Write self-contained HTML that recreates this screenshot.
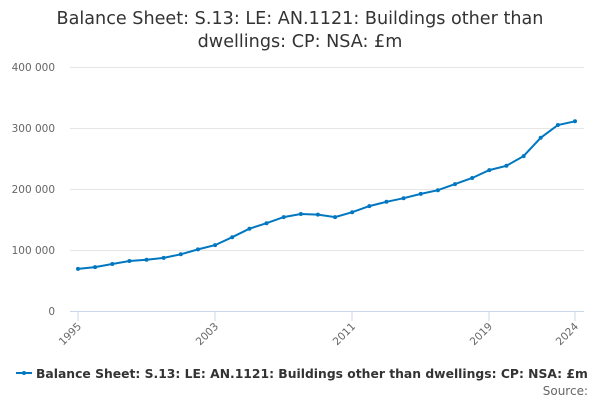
<!DOCTYPE html>
<html><head><meta charset="utf-8"><style>
body{margin:0;background:#fff;width:600px;height:400px;overflow:hidden;font-family:"DejaVu Sans",sans-serif;}
</style></head><body>
<svg width="600" height="400" xmlns="http://www.w3.org/2000/svg" font-family="DejaVu Sans, sans-serif">
<text x="300" y="24" text-anchor="middle" font-size="17.6" fill="#333">Balance Sheet: S.13: LE: AN.1121: Buildings other than</text>
<text x="300" y="47" text-anchor="middle" font-size="17.6" fill="#333">dwellings: CP: NSA: £m</text>
<g stroke="#e6e6e6" stroke-width="1">
<line x1="70" x2="584" y1="67.5" y2="67.5"/><line x1="70" x2="584" y1="128.5" y2="128.5"/>
<line x1="70" x2="584" y1="189.5" y2="189.5"/><line x1="70" x2="584" y1="250.5" y2="250.5"/>
</g>
<line x1="70" x2="584" y1="311.5" y2="311.5" stroke="#ccd6eb"/>
<g font-size="10.5" fill="#666" text-anchor="end">
<text x="55" y="71">400 000</text><text x="55" y="132">300 000</text><text x="55" y="193">200 000</text><text x="55" y="254">100 000</text><text x="55" y="315">0</text>
</g>
<g stroke="#ccd6eb">
<line x1="78" x2="78" y1="311" y2="321"/><line x1="215" x2="215" y1="311" y2="321"/><line x1="352" x2="352" y1="311" y2="321"/><line x1="489" x2="489" y1="311" y2="321"/><line x1="575" x2="575" y1="311" y2="321"/>
</g>
<g font-size="10.5" fill="#666" text-anchor="end">
<text transform="translate(82,327) rotate(-45)">1995</text>
<text transform="translate(219,327) rotate(-45)">2003</text>
<text transform="translate(356,327) rotate(-45)">2011</text>
<text transform="translate(493,327) rotate(-45)">2019</text>
<text transform="translate(579,327) rotate(-45)">2024</text>
</g>
<g id="s"></g>
<line x1="16" x2="32" y1="373" y2="373" stroke="#0077c0" stroke-width="2"/>
<circle cx="24" cy="373" r="2" fill="#0077c0"/>
<text x="36" y="378" font-size="12.35" font-weight="bold" fill="#333">Balance Sheet: S.13: LE: AN.1121: Buildings other than dwellings: CP: NSA: £m</text>
<text x="588" y="395" font-size="12" fill="#666" text-anchor="end">Source:</text>
</svg>
<script>
var v=[69,72,77,82,84,87,93,101,108,121,135,144,154,159,158,154,162,172,179,185,192,198,208,218,231,238,254,284,305,311];
var g=document.getElementById('s'),pts=[],h='';
v.forEach(function(d,i){var x=78+i*(497/29),y=311-d*0.61;pts.push(x.toFixed(1)+','+y.toFixed(1));h+='<circle cx="'+x.toFixed(1)+'" cy="'+y.toFixed(1)+'" r="2" fill="#0077c0"/>';});
g.innerHTML='<polyline points="'+pts.join(' ')+'" fill="none" stroke="#0077c0" stroke-width="2"/>'+h;
</script>
</body></html>
